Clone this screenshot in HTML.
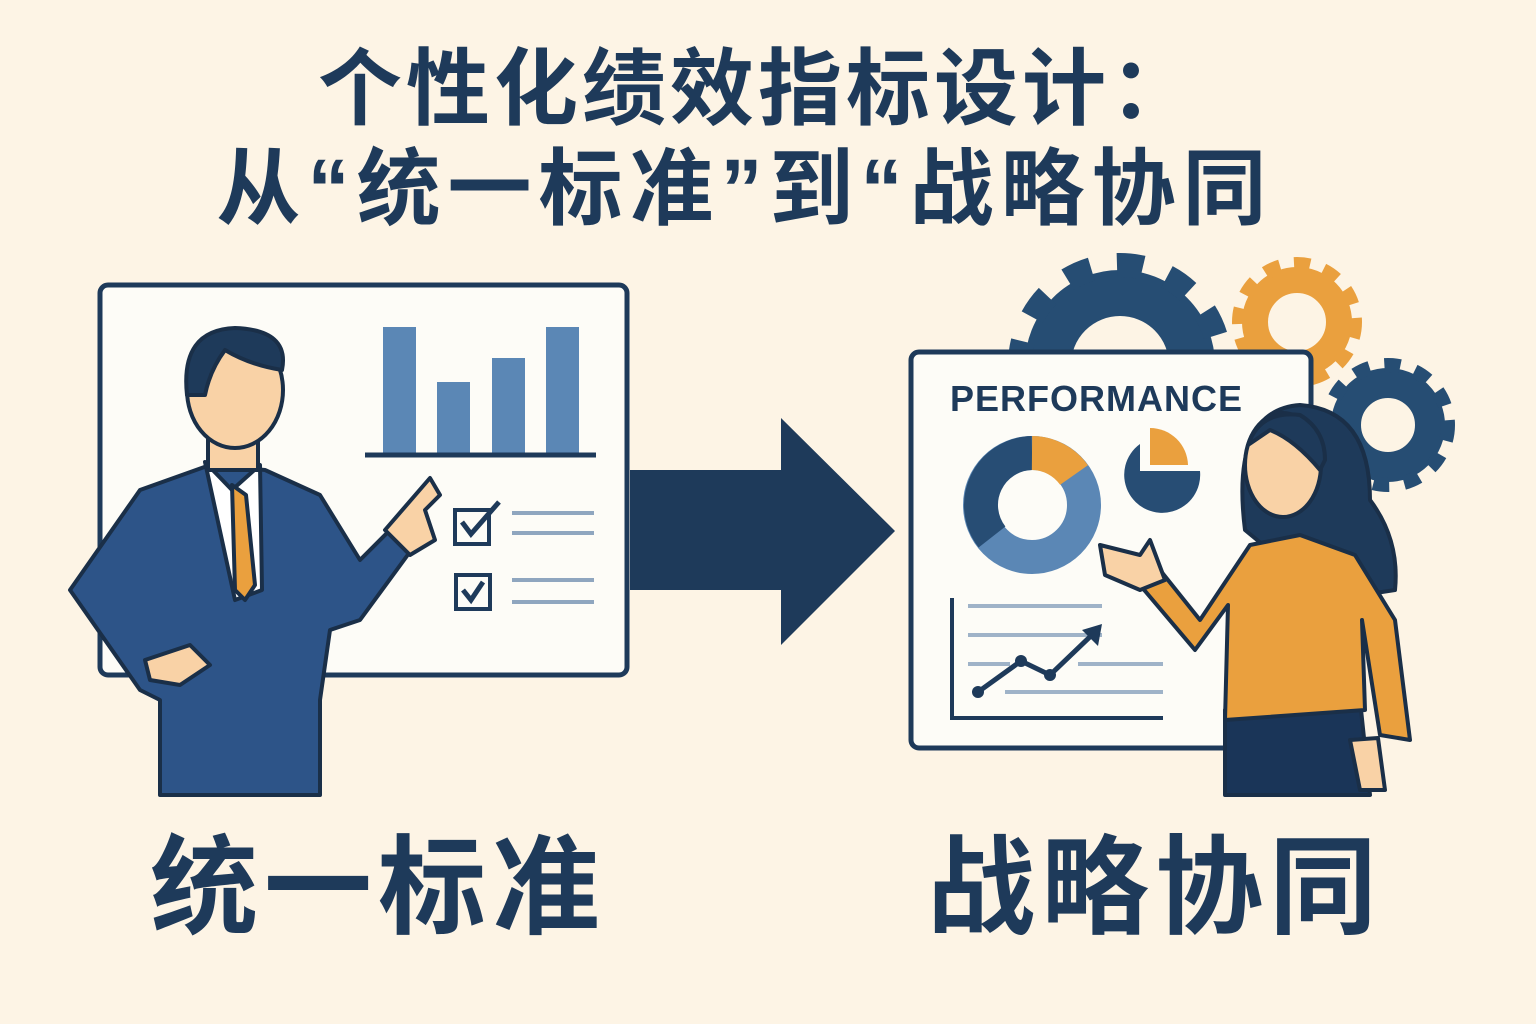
<!DOCTYPE html>
<html><head><meta charset="utf-8"><style>
html,body{margin:0;padding:0;background:#fdf4e5;}
svg{display:block}
text{font-family:"Liberation Sans","Noto Sans CJK SC",sans-serif;font-weight:bold;fill:#1e3a5a}
</style></head><body>
<svg width="1536" height="1024" viewBox="0 0 1536 1024">
<rect width="1536" height="1024" fill="#fdf4e5"/>
<text x="758" y="118" font-size="84" text-anchor="middle" letter-spacing="4">个性化绩效指标设计：</text>
<text x="745" y="218" font-size="84" text-anchor="middle" letter-spacing="7">从“统一标准”到“战略协同</text>
<text x="378" y="925" font-size="108" text-anchor="middle" letter-spacing="6">统一标准</text>
<text x="1155" y="925" font-size="108" text-anchor="middle" letter-spacing="6">战略协同</text>

<!-- gears -->
<g fill="none">
<circle cx="1120" cy="365" r="72" stroke="#264d73" stroke-width="46"/>
<circle cx="1120" cy="365" r="100" stroke="#264d73" stroke-width="24" stroke-dasharray="26 26"/>
<circle cx="1297" cy="322" r="42" stroke="#eaa03e" stroke-width="26"/>
<circle cx="1297" cy="322" r="58" stroke="#eaa03e" stroke-width="14" stroke-dasharray="16 14"/>
<circle cx="1388" cy="425" r="42" stroke="#264d73" stroke-width="30"/>
<circle cx="1388" cy="425" r="60" stroke="#264d73" stroke-width="14" stroke-dasharray="16 15"/>
</g>

<!-- left board -->
<rect x="100" y="285" width="527" height="390" rx="8" fill="#fdfcf7" stroke="#1e3a5a" stroke-width="5"/>
<g fill="#5b87b5"><rect x="383" y="327" width="33" height="126"/><rect x="437" y="382" width="33" height="71"/><rect x="492" y="358" width="33" height="95"/><rect x="546" y="327" width="33" height="126"/></g>
<line x1="365" y1="455" x2="596" y2="455" stroke="#1e3a5a" stroke-width="5"/>
<rect x="455" y="510" width="34" height="34" fill="none" stroke="#1e3a5a" stroke-width="4"/>
<path d="M462 522 l9 12 l28 -32" fill="none" stroke="#1e3a5a" stroke-width="5"/>
<rect x="456" y="575" width="34" height="34" fill="none" stroke="#1e3a5a" stroke-width="4"/>
<path d="M463 590 l8 10 l12 -18" fill="none" stroke="#1e3a5a" stroke-width="5"/>
<g stroke="#8fa6bf" stroke-width="4"><line x1="512" y1="513" x2="594" y2="513"/><line x1="512" y1="533" x2="594" y2="533"/><line x1="512" y1="580" x2="594" y2="580"/><line x1="512" y1="602" x2="594" y2="602"/></g>

<!-- arrow -->
<path d="M630 470 H781 V418 L895 531 L781 645 V590 H630 Z" fill="#1e3a5a"/>

<!-- man -->
<g stroke="#1a2f48" stroke-width="4" stroke-linejoin="round">
<path d="M160 795 V700 L140 690 L70 590 L140 490 L210 465 L265 470 L320 495 L360 560 L395 525 L415 545 L360 620 L330 630 L320 700 V795 Z" fill="#2d5488"/>
<path d="M205 462 L232 490 L260 465 L262 590 L235 600 Z" fill="#fff"/>
<path d="M232 485 L246 495 L255 585 L245 600 L235 590 Z" fill="#eaa03e"/>
<rect x="208" y="430" width="50" height="40" fill="#f9d2a6"/>
<ellipse cx="235" cy="390" rx="48" ry="58" fill="#f9d2a6"/>
<path d="M187 395 Q180 330 235 328 Q290 330 282 370 Q250 365 225 350 Q210 370 205 395 Z" fill="#1e3a5a"/>
<path d="M385 530 L430 478 L440 495 L425 510 L435 540 L410 555 Z" fill="#f9d2a6"/>
<path d="M145 660 L190 645 L210 665 L180 685 L150 680 Z" fill="#f9d2a6"/>
</g>

<!-- right board -->
<rect x="911" y="352" width="400" height="396" rx="8" fill="#fdfcf7" stroke="#1e3a5a" stroke-width="5"/>
<text x="950" y="411" font-size="36" letter-spacing="1" font-family="Liberation Sans,sans-serif">PERFORMANCE</text>
<circle cx="1032" cy="505" r="52" fill="none" stroke="#5b87b5" stroke-width="34"/>
<path d="M1032 453 A52 52 0 0 0 992 537" fill="none" stroke="#274d74" stroke-width="34"/>
<path d="M1032 453 A52 52 0 0 1 1074 475" fill="none" stroke="#eaa03e" stroke-width="34"/>
<path d="M1140 444 V471 H1200 A38 38 0 1 1 1140 444 Z" fill="#274d74"/>
<path d="M1150 428 V465 H1188 A38 38 0 0 0 1150 428 Z" fill="#eaa03e"/>
<path d="M952 598 V718 H1163" fill="none" stroke="#1e3a5a" stroke-width="4"/>
<g stroke="#9fb3c8" stroke-width="4"><line x1="968" y1="606" x2="1102" y2="606"/><line x1="968" y1="635" x2="1102" y2="635"/><line x1="968" y1="664" x2="1010" y2="664"/><line x1="1078" y1="664" x2="1163" y2="664"/><line x1="1005" y1="692" x2="1163" y2="692"/></g>
<path d="M978 692 L1021 661 L1050 675 L1095 632" fill="none" stroke="#1e3a5a" stroke-width="5"/>
<path d="M1102 624 L1082 630 L1098 646 Z" fill="#1e3a5a"/>
<g fill="#1e3a5a"><circle cx="978" cy="692" r="6"/><circle cx="1021" cy="661" r="6"/><circle cx="1050" cy="675" r="6"/></g>

<!-- woman -->
<g stroke="#1a2f48" stroke-width="4" stroke-linejoin="round">
<path d="M1245 530 Q1230 410 1300 405 Q1370 410 1370 500 Q1400 540 1395 590 L1330 600 Z" fill="#1e3a5a"/>
<path d="M1225 795 V710 L1360 700 L1370 795 Z" fill="#1a3558"/>
<path d="M1225 720 L1228 605 L1195 650 L1140 585 L1160 570 L1200 620 L1250 545 L1300 535 L1355 555 L1395 620 L1410 740 L1380 735 L1362 620 L1365 710 Z" fill="#eaa03e"/>
<ellipse cx="1283" cy="465" rx="38" ry="52" fill="#f9d2a6"/>
<path d="M1248 445 Q1260 410 1300 415 Q1325 430 1325 460 L1320 470 Q1295 440 1270 430 Z" fill="#1e3a5a"/>
<path d="M1100 545 L1140 555 L1150 540 L1165 580 L1140 590 L1105 575 Z" fill="#f9d2a6"/>
<path d="M1350 740 L1378 738 L1385 790 L1360 790 Z" fill="#f9d2a6"/>
</g>
</svg>
</body></html>
